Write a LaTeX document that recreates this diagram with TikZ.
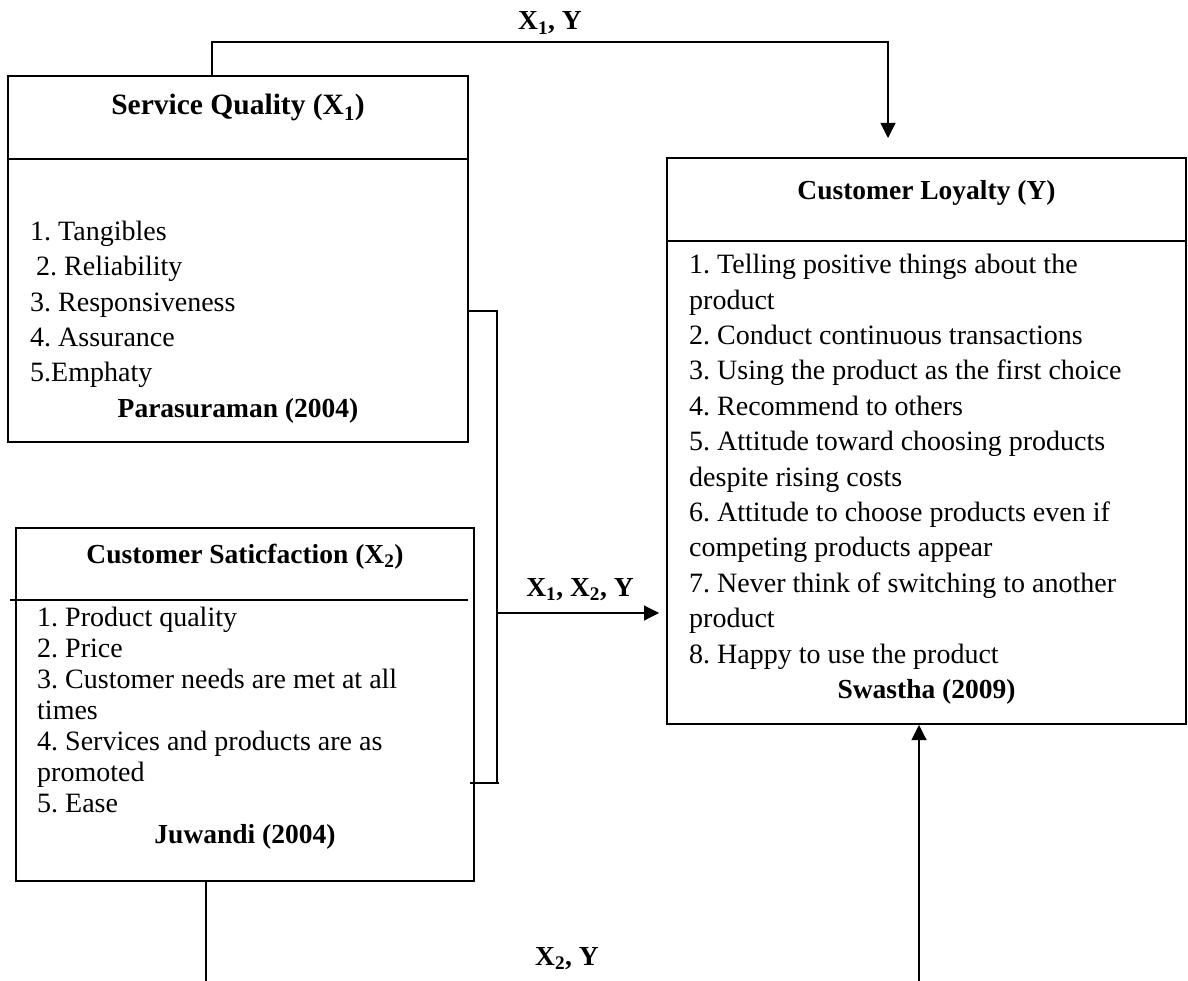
\documentclass[tikz,border=0pt]{standalone}
\usepackage{fontspec}
\setmainfont{Liberation Serif}
\usetikzlibrary{calc,arrows.meta}
\frenchspacing

\begin{document}
\begin{tikzpicture}[x=1pt,y=-1pt,
  box/.style={draw,line width=2pt,inner sep=0pt},
  rule/.style={line width=1.2pt},
  link/.style={line width=1.1pt},
  tip/.style={-{Triangle[length=15pt,width=15pt]}},
  txt/.style={inner sep=0pt,align=left,anchor=north west},
  head/.style={font=\fontsize{27.5}{33}\selectfont\bfseries,inner sep=0pt,anchor=base}]

\useasboundingbox (0,0) rectangle (1188,981);

% boxes
\node[box,minimum width=460pt,minimum height=366pt] (sq) at (238,259) {};
\node[box,minimum width=458pt,minimum height=353pt] (cs) at (245,704.5) {};
\node[box,minimum width=519pt,minimum height=566pt] (cl) at (926.5,441) {};

% dividers
\draw[rule] (8,159) -- (468,159);
\draw[rule] (10,600) -- (468,600);
\draw[rule] (667,241) -- (1186,241);

% titles
\node[head,font=\fontsize{29.5}{33}\selectfont\bfseries] (sqt) at (238,115) {Service Quality (X\textsubscript{1})};
\node[head] (cst) at (245,563) {Customer Saticfaction (X\textsubscript{2})};
\node[head] (clt) at (926.5,200) {Customer Loyalty (Y)};

% indicators
\node[txt,font=\fontsize{28}{35.2}\selectfont] (sqi) at (30,221)
  {1. Tangibles\\\hspace{6pt}2. Reliability\\3. Responsiveness\\4. Assurance\\5.Emphaty};
\node[txt,font=\fontsize{28}{31}\selectfont] (csi) at (37,607)
  {1. Product quality\\2. Price\\3. Customer needs are met at all\\times\\
   4. Services and products are as\\promoted\\5. Ease};
\node[txt,font=\fontsize{28}{35.4}\selectfont] (cli) at (689,254)
  {1. Telling positive things about the\\product\\2. Conduct continuous transactions\\
   3. Using the product as the first choice\\4. Recommend to others\\
   5. Attitude toward choosing products\\despite rising costs\\
   6. Attitude to choose products even if\\competing products appear\\
   7. Never think of switching to another\\product\\8. Happy to use the product};

% sources
\node[head] (sqs) at (238,417) {Parasuraman (2004)};
\node[head] (css) at (245,843) {Juwandi (2004)};
\node[head] (cls) at (926.5,698) {Swastha (2009)};

% paths
\coordinate (join) at (497,783);
\coordinate (mid) at (497,613);
\coordinate (bot) at (919,981);

\draw[link,tip,shorten >=19pt] ([xshift=-26pt]sq.north) -- ++(0,-33) -| ([xshift=-38.5pt]cl.north);
\draw[link] ([yshift=-52pt]sq.east) -| (join);
\draw[link,shorten >=-5pt] ([xshift=2pt]join) -- (cs.east |- join);
\draw[link,tip,shorten >=7pt] (mid) -- (cl.west |- mid);
\draw[link] ([xshift=-39pt]cs.south) -- ++(0,100);
\draw[link,tip] (bot) -- (cl.south -| bot);

% path labels
\node[head] (l1) at (550,30) {X\textsubscript{1}, Y};
\node[head] (l2) at (580,596) {X\textsubscript{1}, X\textsubscript{2}, Y};
\node[head] (l3) at (567,965) {X\textsubscript{2}, Y};

\end{tikzpicture}
\end{document}
